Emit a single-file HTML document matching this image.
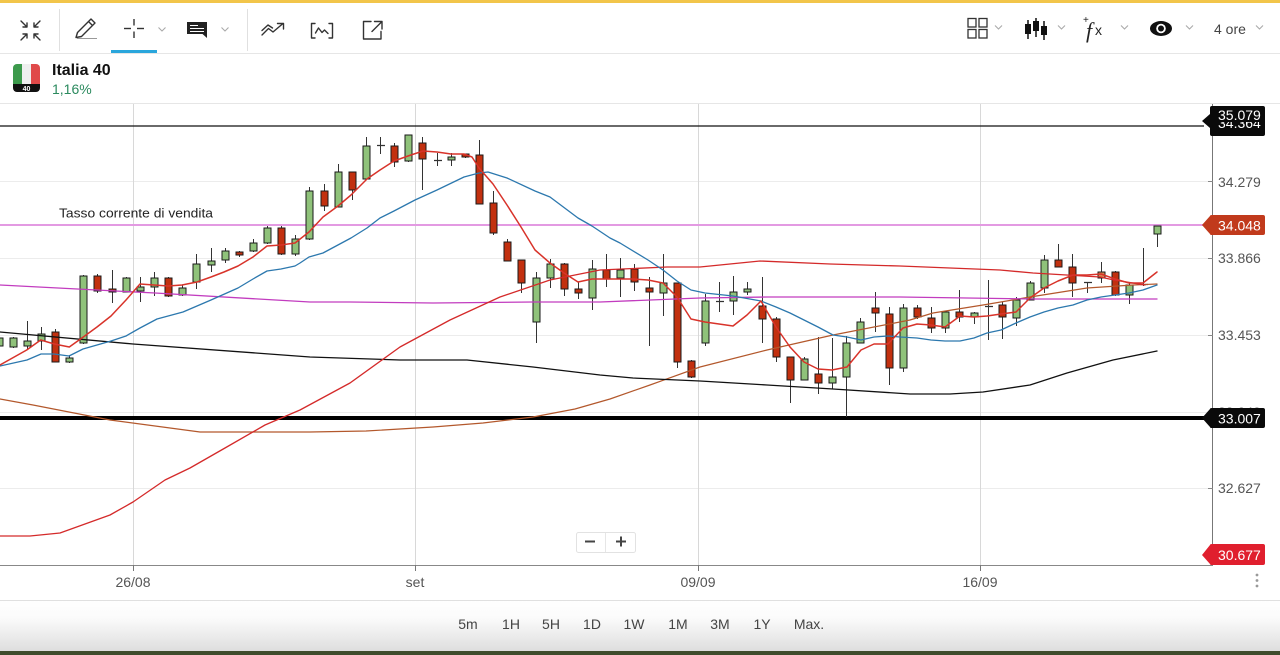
<!DOCTYPE html>
<html><head><meta charset="utf-8">
<style>
html,body{margin:0;padding:0;background:#fff;}
body{width:1280px;height:655px;overflow:hidden;}
svg{display:block;}
text{font-family:"Liberation Sans",sans-serif;}
.g{fill:#8fc27a;stroke:#1a1a1a;stroke-width:1;}
.r{fill:#c2300f;stroke:#1a1a1a;stroke-width:1;}
.t{fill:#d8864e;stroke:#1a1a1a;stroke-width:1;}
.ax{font-size:14px;fill:#555;}
.xl{font-size:14px;fill:#555;text-anchor:middle;}
.pl{font-size:14px;fill:#444;text-anchor:middle;}
.lb{font-size:14px;fill:#fff;}
.chev{fill:none;stroke:#aaa;stroke-width:1.1;}
.ic{fill:none;stroke:#333;stroke-width:1.4;stroke-linecap:round;stroke-linejoin:round;}
</style></head>
<body>
<svg width="1280" height="655" viewBox="0 0 1280 655" xmlns="http://www.w3.org/2000/svg">
<defs>
<linearGradient id="bb" x1="0" y1="0" x2="0" y2="1">
<stop offset="0" stop-color="#ffffff"/><stop offset="0.35" stop-color="#fbfbfb"/><stop offset="1" stop-color="#dedede"/>
</linearGradient>
<clipPath id="clipA"><rect x="1205" y="122" width="70" height="20"/></clipPath>
<clipPath id="flag"><rect x="13" y="64" width="27" height="28" rx="4"/></clipPath>
</defs>

<rect x="0" y="0" width="1280" height="3" fill="#f2c54a"/>
<line x1="0" y1="53.5" x2="1280" y2="53.5" stroke="#e6e6e6"/>
<line x1="59.5" y1="9" x2="59.5" y2="51" stroke="#e0e0e0"/>
<line x1="247.5" y1="9" x2="247.5" y2="51" stroke="#e0e0e0"/>

<g class="ic" stroke-width="1.3">
<path d="M21 21 L27 27 M27 23 V27 H23"/>
<path d="M40 21 L34 27 M34 23 V27 H38"/>
<path d="M21 40 L27 34 M23 34 H27 V38"/>
<path d="M40 40 L34 34 M38 34 H34 V38"/>
</g>
<path class="ic" d="M76 37.5 L77.5 32.5 L91 19 L95 23 L81.5 36.5 Z M88.5 21.5 L92.5 25.5"/>
<line x1="77" y1="38.5" x2="97" y2="38.5" stroke="#999" stroke-width="1"/>
<g stroke="#333" stroke-width="1.4">
<line x1="124" y1="28.5" x2="131" y2="28.5"/><line x1="137" y1="28.5" x2="144" y2="28.5"/>
<line x1="134" y1="19" x2="134" y2="25.5"/><line x1="134" y1="31.5" x2="134" y2="38"/>
</g>
<rect x="111" y="50" width="46" height="3" fill="#2aa6dc"/>
<path class="chev" d="M158.5 27.5 l3.5 3.5 l3.5 -3.5"/>
<path d="M187 22 H207 V38 L202.5 34 H187 Z" fill="#222"/>
<g stroke="#fff" stroke-width="1">
<line x1="190" y1="25.5" x2="198" y2="25.5"/><line x1="190" y1="28.5" x2="204" y2="28.5"/><line x1="190" y1="31.5" x2="204" y2="31.5"/>
</g>
<path class="chev" d="M221.5 27.5 l3.5 3.5 l3.5 -3.5"/>
<path class="ic" d="M262 35 L268.5 28.5 L273 32 L283 23.5 M277.5 23.5 H283.5 V29"/>
<path class="ic" d="M262 30.5 L268 25 L272.5 28" stroke-width="1.2"/>
<path class="ic" d="M315 23.5 H311.5 V38 H315 M329 23.5 H332.5 V38 H329 M315.5 33 L318.5 28 L322 32.5 L324.5 30 L328 33.5"/>
<path class="ic" d="M371 21.5 H363.5 V39 H381 V31.5 M374.5 21.5 H382 V29 M382 21.5 L372 31.5"/>

<g fill="none" stroke="#333" stroke-width="1.3">
<rect x="968" y="18.5" width="8" height="8.5"/><rect x="979" y="18.5" width="8" height="8.5"/>
<rect x="968" y="29.5" width="8" height="8.5"/><rect x="979" y="29.5" width="8" height="8.5"/>
</g>
<path class="chev" d="M995 25.5 l3.5 3.5 l3.5 -3.5"/>
<g stroke="#111" stroke-width="1.5">
<line x1="1028" y1="20" x2="1028" y2="39"/><line x1="1036" y1="18" x2="1036" y2="37"/><line x1="1044" y1="21" x2="1044" y2="40"/>
</g>
<g fill="#111">
<rect x="1025" y="24" width="6" height="10"/><rect x="1033" y="21" width="6" height="10"/><rect x="1041" y="26" width="6" height="9"/>
</g>
<path class="chev" d="M1058 25.5 l3.5 3.5 l3.5 -3.5"/>
<text x="1083" y="23" style="font-size:10px;fill:#222;">+</text>
<text x="1086" y="38" style="font-family:'Liberation Serif',serif;font-style:italic;font-size:22px;fill:#222;">f</text>
<text x="1095" y="35" style="font-size:14px;fill:#222;">x</text>
<path class="chev" d="M1121 25.5 l3.5 3.5 l3.5 -3.5"/>
<ellipse cx="1161" cy="28.5" rx="11" ry="7.5" fill="#111"/>
<circle cx="1161" cy="28.5" r="4.8" fill="#fff"/>
<circle cx="1161" cy="28.5" r="3" fill="#111"/>
<path class="chev" d="M1186 25.5 l3.5 3.5 l3.5 -3.5"/>
<text x="1214" y="34" style="font-size:14px;fill:#444;">4 ore</text>
<path class="chev" d="M1256 25.5 l3.5 3.5 l3.5 -3.5"/>

<g clip-path="url(#flag)">
<rect x="13" y="64" width="9" height="20" fill="#3c9a4c"/>
<rect x="22" y="64" width="9" height="20" fill="#efefef"/>
<rect x="31" y="64" width="9" height="20" fill="#e04a4a"/>
<rect x="13" y="84" width="27" height="8" fill="#111"/>
</g>
<text x="26.5" y="91" style="font-size:7px;font-weight:bold;fill:#fff;text-anchor:middle;">40</text>
<text x="52" y="75" style="font-size:16px;font-weight:bold;fill:#111;">Italia 40</text>
<text x="52" y="94" style="font-size:14px;fill:#2b8a5e;">1,16%</text>
<line x1="0" y1="103.5" x2="1280" y2="103.5" stroke="#e6e6e6"/>

<g stroke="#ececec" stroke-width="1">
<line x1="0" y1="181.5" x2="1210" y2="181.5"/>
<line x1="0" y1="258.5" x2="1210" y2="258.5"/>
<line x1="0" y1="335.5" x2="1210" y2="335.5"/>
<line x1="0" y1="412.5" x2="1210" y2="412.5"/>
<line x1="0" y1="488.5" x2="1210" y2="488.5"/>
</g>
<g stroke="#d8d8d8" stroke-width="1">
<line x1="133.5" y1="104" x2="133.5" y2="565"/>
<line x1="415.5" y1="104" x2="415.5" y2="565"/>
<line x1="698.5" y1="104" x2="698.5" y2="565"/>
<line x1="980.5" y1="104" x2="980.5" y2="565"/>
</g>

<line x1="0" y1="126" x2="1204" y2="126" stroke="#111" stroke-width="1.3"/>
<line x1="0" y1="225" x2="1204" y2="225" stroke="#e39ae2" stroke-width="2"/>
<line x1="0" y1="418" x2="1204" y2="418" stroke="#000" stroke-width="4"/>
<text x="59" y="217.5" style="font-size:13px;fill:#222;" textLength="154" lengthAdjust="spacingAndGlyphs">Tasso corrente di vendita</text>

<path fill="none" stroke="#333" stroke-width="1" d="M13.5 337V348 M27.5 321V350 M41.5 327V350 M55.5 329V362 M69.5 355V363 M83.5 275V344 M97.5 274V293 M112.5 270V303 M126.5 277V292 M140.5 277V302 M154.5 272V296 M168.5 277V297 M182.5 285V296 M196.5 254V289 M211.5 248V272 M225.5 248V263 M239.5 251V257 M253.5 239V252 M267.5 226V244 M281.5 226V255 M295.5 235V256 M309.5 187V240 M324.5 184V211 M338.5 164V207 M352.5 172V200 M366.5 137V180 M380.5 137V154 M394.5 143V167 M408.5 135V162 M422.5 137V190 M437.5 153V166 M451.5 153V166 M465.5 154V158 M479.5 140V204 M493.5 191V235 M507.5 239V261 M521.5 260V293 M536.5 272V343 M550.5 259V288 M564.5 263V296 M578.5 282V299 M592.5 260V310 M606.5 254V287 M620.5 258V297 M634.5 264V291 M649.5 277V346 M663.5 254V316 M677.5 283V368 M691.5 360V378 M705.5 294V346 M719.5 282V312 M733.5 276V315 M747.5 282V295 M762.5 277V343 M776.5 317V362 M790.5 357V403 M804.5 357V380 M818.5 337V394 M832.5 338V389 M846.5 336V417 M860.5 318V343 M875.5 292V332 M889.5 307V385 M903.5 304V372 M917.5 305V319 M931.5 307V333 M945.5 311V333 M959.5 290V322 M974.5 312V324 M988.5 280V340 M1002.5 302V339 M1016.5 297V326 M1030.5 281V300 M1044.5 255V293 M1058.5 244V267 M1072.5 254V297 M1087.5 282V293 M1101.5 262V283 M1115.5 271V296 M1129.5 283V304 M1143.5 248V286 M1157.5 226V247"/>
<path fill="none" stroke="#333" stroke-width="1.2" d="M377 145.5h8 M434 160.5h8 M716 301.5h8 M985 306.5h8 M1084 282.5h8 M1140 284.5h8"/>

<rect class="g" x="-4" y="338" width="7" height="8"/>
<rect class="g" x="10" y="338" width="7" height="9"/>
<rect class="g" x="24" y="341" width="7" height="5"/>
<rect class="g" x="38" y="334" width="7" height="7"/>
<rect class="r" x="52" y="332" width="7" height="30"/>
<rect class="g" x="66" y="358" width="7" height="4"/>
<rect class="g" x="80" y="276" width="7" height="67"/>
<rect class="r" x="94" y="276" width="7" height="15"/>
<rect class="r" x="109" y="289" width="7" height="3"/>
<rect class="g" x="123" y="278" width="7" height="14"/>
<rect class="g" x="137" y="287" width="7" height="4"/>
<rect class="g" x="151" y="278" width="7" height="9"/>
<rect class="r" x="165" y="278" width="7" height="18"/>
<rect class="g" x="179" y="288" width="7" height="7"/>
<rect class="g" x="193" y="264" width="7" height="18"/>
<rect class="g" x="208" y="261" width="7" height="4"/>
<rect class="g" x="222" y="251" width="7" height="9"/>
<rect class="r" x="236" y="252" width="7" height="3"/>
<rect class="g" x="250" y="243" width="7" height="8"/>
<rect class="g" x="264" y="228" width="7" height="15"/>
<rect class="r" x="278" y="228" width="7" height="26"/>
<rect class="g" x="292" y="239" width="7" height="15"/>
<rect class="g" x="306" y="191" width="7" height="48"/>
<rect class="r" x="321" y="191" width="7" height="15"/>
<rect class="g" x="335" y="172" width="7" height="35"/>
<rect class="r" x="349" y="172" width="7" height="18"/>
<rect class="g" x="363" y="146" width="7" height="33"/>
<rect class="r" x="391" y="146" width="7" height="16"/>
<rect class="g" x="405" y="135" width="7" height="26"/>
<rect class="r" x="419" y="143" width="7" height="16"/>
<rect class="g" x="448" y="157" width="7" height="3"/>
<rect class="r" x="462" y="154" width="7" height="3"/>
<rect class="r" x="476" y="155" width="7" height="49"/>
<rect class="r" x="490" y="203" width="7" height="30"/>
<rect class="r" x="504" y="242" width="7" height="19"/>
<rect class="r" x="518" y="260" width="7" height="23"/>
<rect class="g" x="533" y="278" width="7" height="44"/>
<rect class="g" x="547" y="264" width="7" height="14"/>
<rect class="r" x="561" y="264" width="7" height="25"/>
<rect class="r" x="575" y="289" width="7" height="4"/>
<rect class="g" x="589" y="269" width="7" height="29"/>
<rect class="r" x="603" y="270" width="7" height="9"/>
<rect class="g" x="617" y="270" width="7" height="8"/>
<rect class="r" x="631" y="269" width="7" height="13"/>
<rect class="r" x="646" y="288" width="7" height="4"/>
<rect class="g" x="660" y="283" width="7" height="10"/>
<rect class="r" x="674" y="283" width="7" height="79"/>
<rect class="r" x="688" y="361" width="7" height="16"/>
<rect class="g" x="702" y="301" width="7" height="42"/>
<rect class="g" x="730" y="292" width="7" height="9"/>
<rect class="g" x="744" y="289" width="7" height="3"/>
<rect class="r" x="759" y="306" width="7" height="13"/>
<rect class="r" x="773" y="319" width="7" height="38"/>
<rect class="r" x="787" y="357" width="7" height="23"/>
<rect class="g" x="801" y="359" width="7" height="21"/>
<rect class="r" x="815" y="374" width="7" height="9"/>
<rect class="g" x="829" y="377" width="7" height="6"/>
<rect class="g" x="843" y="343" width="7" height="34"/>
<rect class="g" x="857" y="322" width="7" height="21"/>
<rect class="r" x="872" y="308" width="7" height="5"/>
<rect class="r" x="886" y="314" width="7" height="54"/>
<rect class="g" x="900" y="308" width="7" height="60"/>
<rect class="r" x="914" y="308" width="7" height="9"/>
<rect class="r" x="928" y="318" width="7" height="10"/>
<rect class="g" x="942" y="312" width="7" height="16"/>
<rect class="r" x="956" y="312" width="7" height="5"/>
<rect class="g" x="971" y="313" width="7" height="4"/>
<rect class="r" x="999" y="305" width="7" height="12"/>
<rect class="g" x="1013" y="300" width="7" height="18"/>
<rect class="g" x="1027" y="283" width="7" height="17"/>
<rect class="g" x="1041" y="260" width="7" height="28"/>
<rect class="r" x="1055" y="260" width="7" height="7"/>
<rect class="r" x="1069" y="267" width="7" height="16"/>
<rect class="t" x="1098" y="272" width="7" height="6"/>
<rect class="r" x="1112" y="272" width="7" height="23"/>
<rect class="g" x="1126" y="285" width="7" height="10"/>
<rect class="g" x="1154" y="226" width="7" height="8"/>

<g fill="none" stroke-linejoin="round" stroke-linecap="round">
<polyline stroke="#b3582c" stroke-width="1.2" points="0,399 33,405 110,420 200,432 310,432 366,431 433,427 483,423 533,417 575,409 610,399 650,385 700,367 767,350 833,335 910,320 933,313 983,305 1030,297 1087,288 1133,285 1157,284"/>
<polyline stroke="#111" stroke-width="1.3" points="0,332 133,344 310,357 400,360 467,360 533,367 600,375 633,378 700,381 767,385 833,389 910,394 950,394 983,392 1030,385 1067,373 1113,360 1157,351"/>
<polyline stroke="#c23cbf" stroke-width="1.3" points="0,285 155,293 310,302 350,302 433,303 533,302 600,302 700,298 767,297 900,297 1033,299 1157,299"/>
<polyline stroke="#d42a2a" stroke-width="1.3" points="0,536 30,536 60,533 110,515 133,502 165,480 190,468 225,448 265,425 300,410 350,383 400,347 450,320 500,297 550,280 600,270 667,267 700,267 760,261 830,264 900,266 1000,270 1033,273 1100,277 1114,280 1145,285"/>
<polyline stroke="#2c78ae" stroke-width="1.3" points="0,366 27,360 41,354 54,354 69,356 83,349 111,341 126,336 140,328 157,319 183,312 211,300 238,288 253,279 267,271 281,269 295,266 300,263 309,257 323,253 351,238 367,228 380,218 394,211 415,200 437,190 464,177 479,173 488,172 507,178 535,191 550,197 578,218 592,226 610,238 620,243 648,260 663,270 677,281 691,290 705,293 733,296 761,301 776,307 790,313 818,327 833,335 847,337 861,340 874,337 888,336 900,337 917,338 931,340 945,341 960,341 974,338 987,333 1001,330 1016,323 1030,317 1044,312 1058,308 1073,305 1087,300 1101,297 1115,295 1129,293 1143,290 1157,285"/>
<polyline stroke="#d8332a" stroke-width="1.5" points="0,365 26.7,350 40.7,340 54.3,344 69.3,347 83.3,337 97,327 111,316 126,300 140,284 154,285 168,286 182,285 197,282 211,277 224,272 238,266 253,257 267,246 281,245 295,243 309,232 323,217 338,206 351,195 367,179 380,170 394,161 408,156 423,151 437,152 451,154 464,154 472,157 479,168 493,184 507,205 521,227 535,250 550,263 564,273 578,282 592,279 606,279 620,279 634,279 648,280 663,283 677,297 691,319 705,322 719,324 733,326 747,315 761,301 776,327 790,347 804,362 818,369 832,370 847,367 861,350 874,344 888,344 903,328 917,324 931,325 945,327 960,316 974,317 987,316 1001,314 1016,312 1030,298 1044,288 1058,281 1073,275 1087,275 1101,274 1115,279 1129,283 1143,283 1157,272"/>
</g>

<line x1="1212.5" y1="104" x2="1212.5" y2="565" stroke="#777" stroke-width="1"/>
<line x1="0" y1="565.5" x2="1213" y2="565.5" stroke="#888" stroke-width="1"/>
<g stroke="#888"><line x1="1208" y1="181.5" x2="1213" y2="181.5"/><line x1="1208" y1="258.5" x2="1213" y2="258.5"/><line x1="1208" y1="335.5" x2="1213" y2="335.5"/><line x1="1208" y1="488.5" x2="1213" y2="488.5"/></g>
<text class="ax" x="1218" y="187">34.279</text>
<text class="ax" x="1218" y="263">33.866</text>
<text class="ax" x="1218" y="340">33.453</text>
<text class="ax" x="1218" y="417">33.040</text>
<text class="ax" x="1218" y="493">32.627</text>

<path d="M1202 121 L1210 114 L1210 108 Q1210 106 1212 106 L1263 106 Q1265 106 1265 108 L1265 134 Q1265 136 1263 136 L1212 136 Q1210 136 1210 134 L1210 128 Z" fill="#0a0a0a"/>
<text class="lb" x="1218" y="120">35.079</text>
<text class="lb" x="1218" y="128" clip-path="url(#clipA)">34.364</text>
<path d="M1202 225 L1210 216 Q1210 215 1212 215 L1263 215 Q1265 215 1265 217 L1265 233 Q1265 235 1263 235 L1212 235 Q1210 235 1210 234 Z" fill="#c13a1c"/>
<text class="lb" x="1218" y="230.5">34.048</text>
<path d="M1202 418 L1210 409 Q1210 408 1212 408 L1263 408 Q1265 408 1265 410 L1265 426 Q1265 428 1263 428 L1212 428 Q1210 428 1210 427 Z" fill="#0a0a0a"/>
<text class="lb" x="1218" y="423.5">33.007</text>
<path d="M1202 555 L1210 545 Q1210 544 1212 544 L1263 544 Q1265 544 1265 546 L1265 563 Q1265 565 1263 565 L1212 565 Q1210 565 1210 564 Z" fill="#e01f2e"/>
<text class="lb" x="1218" y="560">30.677</text>

<rect x="576.5" y="532.5" width="59" height="20" rx="2" fill="#fff" stroke="#e2e2e2"/>
<line x1="605.5" y1="533" x2="605.5" y2="552" stroke="#e6e6e6"/>
<line x1="585" y1="541.5" x2="595" y2="541.5" stroke="#444" stroke-width="2"/>
<line x1="616" y1="541.5" x2="626" y2="541.5" stroke="#444" stroke-width="2"/>
<line x1="621" y1="536.5" x2="621" y2="546.5" stroke="#444" stroke-width="2"/>

<g stroke="#777"><line x1="133.5" y1="565" x2="133.5" y2="571"/><line x1="415.5" y1="565" x2="415.5" y2="571"/><line x1="698.5" y1="565" x2="698.5" y2="571"/><line x1="980.5" y1="565" x2="980.5" y2="571"/></g>
<text class="xl" x="133" y="587">26/08</text>
<text class="xl" x="415" y="587">set</text>
<text class="xl" x="698" y="587">09/09</text>
<text class="xl" x="980" y="587">16/09</text>
<g fill="#999"><circle cx="1257" cy="575" r="1.4"/><circle cx="1257" cy="580.5" r="1.4"/><circle cx="1257" cy="586" r="1.4"/></g>

<rect x="0" y="600" width="1280" height="51" fill="url(#bb)"/>
<line x1="0" y1="600.5" x2="1280" y2="600.5" stroke="#e0e0e0"/>
<text class="pl" x="468" y="629">5m</text>
<text class="pl" x="511" y="629">1H</text>
<text class="pl" x="551" y="629">5H</text>
<text class="pl" x="592" y="629">1D</text>
<text class="pl" x="634" y="629">1W</text>
<text class="pl" x="678" y="629">1M</text>
<text class="pl" x="720" y="629">3M</text>
<text class="pl" x="762" y="629">1Y</text>
<text class="pl" x="809" y="629">Max.</text>
<rect x="0" y="651" width="1280" height="4" fill="#3f4c2c"/>
</svg>
</body></html>
